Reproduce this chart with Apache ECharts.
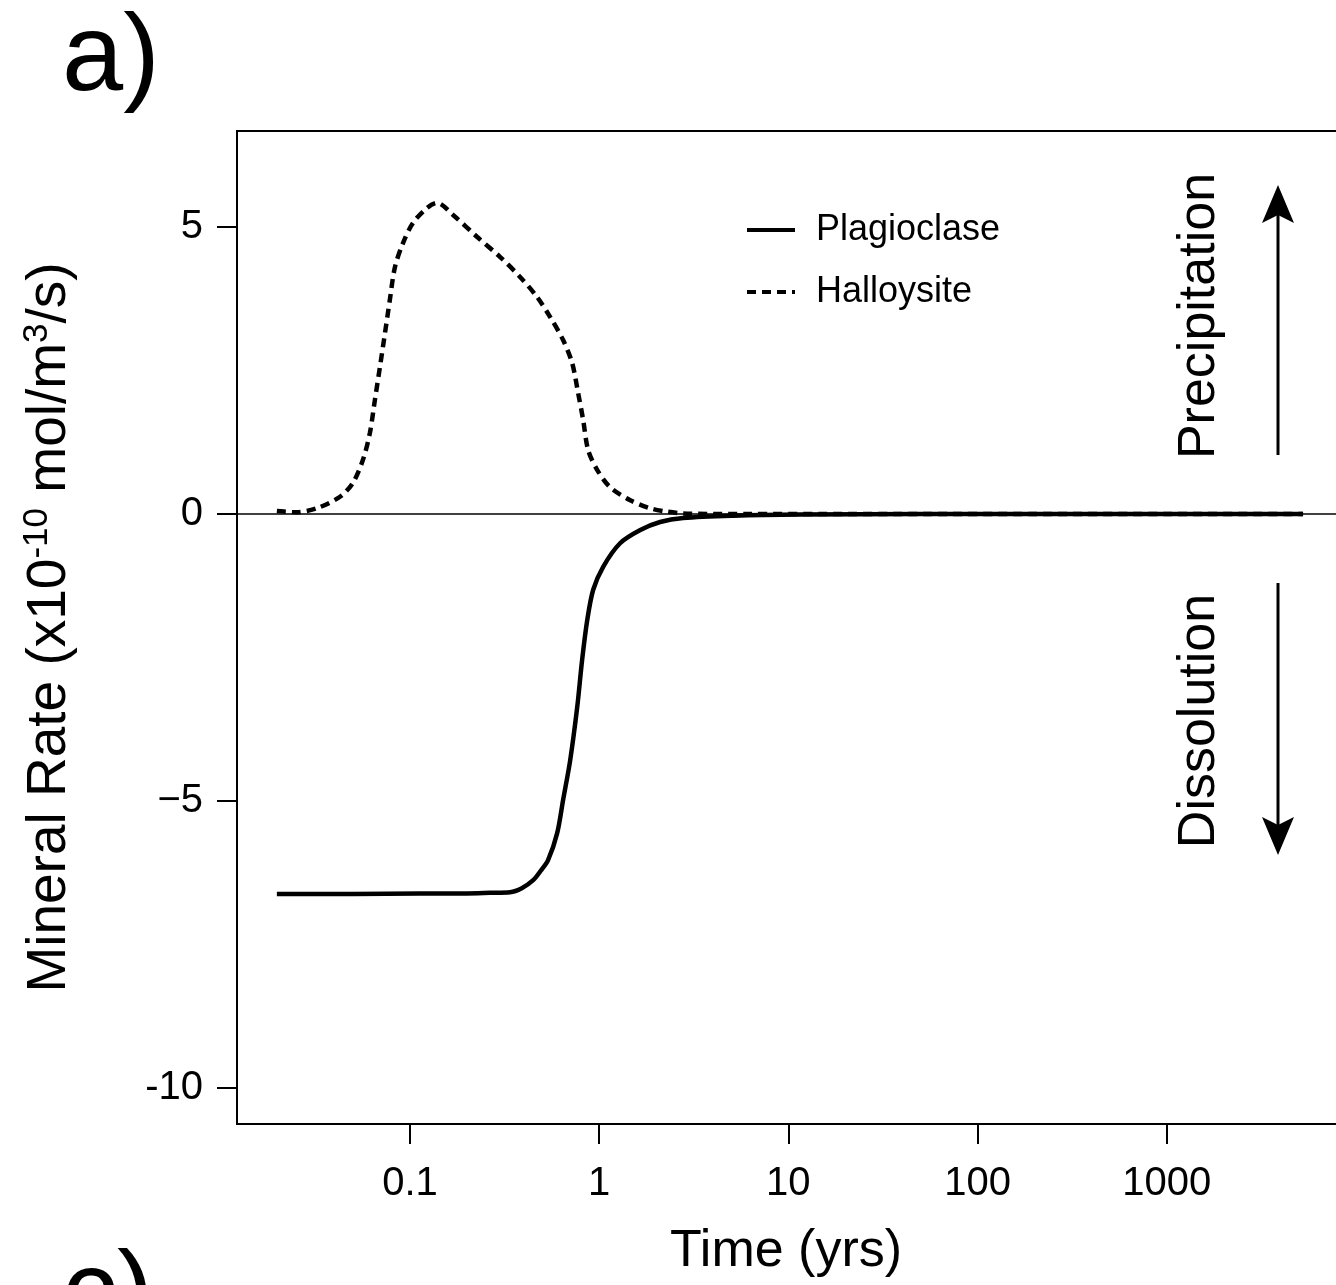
<!DOCTYPE html>
<html>
<head>
<meta charset="utf-8">
<script src="https://cdn.jsdelivr.net/npm/echarts@6/dist/echarts.min.js"></script>
<style>
html,body{margin:0;padding:0;background:#fff;overflow:hidden;width:1336px;height:1285px;}
#chart{width:1356px;height:1285px;}
</style>
</head>
<body>
<div id="chart"></div>
<script>
// ---- data ----
var plagioclaseTime = [0.0198, 0.05, 0.113, 0.2, 0.265, 0.338, 0.39, 0.448, 0.49, 0.537, 0.600, 0.645, 0.703, 0.766, 0.813, 0.865, 0.930, 1.05, 1.29, 1.65, 2.10, 2.78, 5.12, 11.6, 50, 200, 1000, 5250];
var plagioclaseRate = [-6.62, -6.62, -6.61, -6.61, -6.60, -6.59, -6.52, -6.38, -6.22, -6.03, -5.56, -4.98, -4.29, -3.36, -2.54, -1.85, -1.32, -0.92, -0.51, -0.28, -0.14, -0.07, -0.03, -0.01, 0, 0, 0, 0];

var halloysiteTime = [0.0198, 0.0252, 0.0322, 0.0427, 0.0499, 0.0564, 0.0614, 0.0653, 0.0694, 0.0738, 0.0783, 0.0833, 0.0919, 0.1037, 0.123, 0.139, 0.169, 0.226, 0.299, 0.382, 0.470, 0.551, 0.645, 0.720, 0.774, 0.823, 0.875, 0.976, 1.14, 1.46, 1.86, 2.29, 2.78, 4, 6.3, 15, 50, 200, 1000, 5250];
var halloysiteRate = [0.05, 0.03, 0.1, 0.3, 0.54, 0.94, 1.41, 1.99, 2.56, 3.15, 3.73, 4.3, 4.72, 5.07, 5.33, 5.42, 5.21, 4.83, 4.48, 4.13, 3.78, 3.43, 3.03, 2.63, 2.11, 1.64, 1.11, 0.77, 0.47, 0.24, 0.1, 0.04, 0.01, 0, 0, 0, 0, 0, 0, 0];

var xTickValues = [0.1, 1, 10, 100, 1000];
var xTickLabels = ['0.1', '1', '10', '100', '1000'];
var yTickValues = [5, 0, -5, -10];
var yTickLabels = ['5', '0', '\u22125', '-10'];

var seriesNames = ['Plagioclase', 'Halloysite'];

function pairs(xs, ys) {
  var out = [];
  for (var i = 0; i < xs.length; i++) out.push([xs[i], ys[i]]);
  return out;
}

var FONT = '"Liberation Sans", Arial, Helvetica, sans-serif';
var chart = echarts.init(document.getElementById('chart'), null, {renderer: 'canvas', width: 1356, height: 1285});

var option = {
  backgroundColor: '#ffffff',
  animation: false,
  textStyle: {fontFamily: FONT, color: '#000'},
  grid: {
    left: 237, top: 131, bottom: 161, right: 0,
    show: true, borderColor: '#000', borderWidth: 2, backgroundColor: 'transparent',
    containLabel: false
  },
  legend: {
    orient: 'vertical',
    left: 740, top: 205,
    itemWidth: 48, itemHeight: 14,
    itemGap: 22,
    itemStyle: {color: 'rgba(0,0,0,0)', borderColor: 'rgba(0,0,0,0)', borderWidth: 0},
    lineStyle: {width: 4},
    textStyle: {fontFamily: FONT, fontSize: 36, color: '#000', lineHeight: 40, padding: [0, 0, 0, 16]},
    data: seriesNames
  },
  xAxis: {
    type: 'log',
    logBase: 10,
    min: Math.pow(10, -1.914),
    max: 10000,
    axisLine: {show: true, onZero: false, lineStyle: {color: '#000', width: 2}},
    axisTick: {show: true, length: 20, lineStyle: {color: '#000', width: 2}, customValues: xTickValues},
    axisLabel: {
      show: true, fontSize: 40, color: '#000', fontFamily: FONT, margin: 40,
      customValues: xTickValues,
      formatter: function (v) {
        for (var i = 0; i < xTickValues.length; i++) {
          if (Math.abs(Math.log10(v) - Math.log10(xTickValues[i])) < 1e-6) return xTickLabels[i];
        }
        return '';
      }
    },
    splitLine: {show: false},
    minorTick: {show: false}
  },
  yAxis: {
    type: 'value',
    min: -10.627,
    max: 6.672,
    axisLine: {show: true, onZero: false, lineStyle: {color: '#000', width: 2}},
    axisTick: {show: true, length: 20, lineStyle: {color: '#000', width: 2}, customValues: yTickValues},
    axisLabel: {
      show: true, fontSize: 40, color: '#000', fontFamily: FONT, margin: 34,
      customValues: yTickValues,
      formatter: function (v) {
        for (var i = 0; i < yTickValues.length; i++) {
          if (Math.abs(v - yTickValues[i]) < 1e-6) return yTickLabels[i];
        }
        return '';
      }
    },
    splitLine: {show: false},
    name: '{a|Mineral Rate (x10}{b|-10}{a| mol/m}{b|3}{a|/s)}',
    nameLocation: 'middle',
    nameRotate: 90,
    nameGap: 157,
    nameTextStyle: {
      rich: {
        a: {fontSize: 55, fontFamily: FONT, color: '#000', lineHeight: 60},
        b: {fontSize: 35, fontFamily: FONT, color: '#000', verticalAlign: 'top', lineHeight: 34}
      }
    }
  },
  series: [
    {
      name: seriesNames[0],
      type: 'line',
      data: pairs(plagioclaseTime, plagioclaseRate),
      symbol: 'none',
      showSymbol: false,
      smooth: 0.3,
      lineStyle: {color: '#000', width: 4.5, type: 'solid'},
      itemStyle: {color: '#000'},
      z: 3,
      markLine: {
        silent: true,
        symbol: 'none',
        label: {show: false},
        lineStyle: {color: '#000', width: 1.5, type: 'solid'},
        data: [{yAxis: 0}],
        z: 2
      }
    },
    {
      name: seriesNames[1],
      type: 'line',
      data: pairs(halloysiteTime, halloysiteRate),
      symbol: 'none',
      showSymbol: false,
      smooth: 0.3,
      lineStyle: {color: '#000', width: 4.5, type: [9, 6], cap: 'butt'},
      itemStyle: {color: '#000'},
      z: 4
    }
  ],
  graphic: [
    {type: 'text', left: 62, top: 5, style: {text: 'a)', font: '110px ' + FONT, fill: '#000'}},
    {type: 'text', left: 62, top: 1242, style: {text: 'c)', font: '110px ' + FONT, fill: '#000'}},
    {type: 'text', x: 1200, y: 316, rotation: Math.PI / 2,
      style: {text: 'Precipitation', font: '52px ' + FONT, fill: '#000', align: 'center', verticalAlign: 'middle'}},
    {type: 'text', x: 1200, y: 721, rotation: Math.PI / 2,
      style: {text: 'Dissolution', font: '52px ' + FONT, fill: '#000', align: 'center', verticalAlign: 'middle'}},
    {type: 'line', shape: {x1: 1278, y1: 455, x2: 1278, y2: 212}, style: {stroke: '#000', lineWidth: 3}},
    {type: 'polygon', shape: {points: [[1278, 185], [1294, 223], [1278, 215], [1262, 223]]}, style: {fill: '#000'}},
    {type: 'line', shape: {x1: 1278, y1: 583, x2: 1278, y2: 828}, style: {stroke: '#000', lineWidth: 3}},
    {type: 'polygon', shape: {points: [[1278, 855], [1294, 817], [1278, 825], [1262, 817]]}, style: {fill: '#000'}},
    {type: 'text', x: 786, y: 1252,
      style: {text: 'Time (yrs)', font: '52px ' + FONT, fill: '#000', align: 'center', verticalAlign: 'middle'}}
  ]
};
chart.setOption(option);
</script>
</body>
</html>
